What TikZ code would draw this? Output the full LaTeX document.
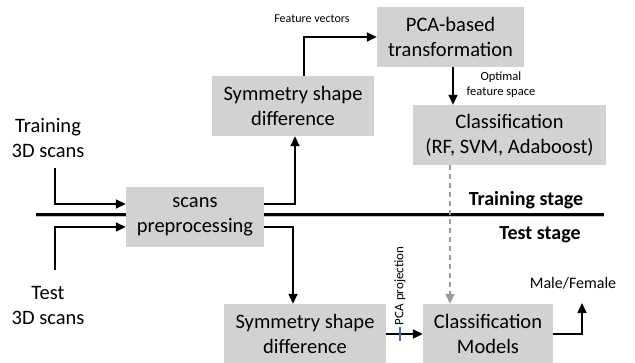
\documentclass[tikz,border=0pt]{standalone}
\usepackage{fontspec}
\setmainfont{Carlito}
\usetikzlibrary{arrows.meta,calc}
\definecolor{boxgray}{RGB}{210,210,210}
\definecolor{dashgray}{RGB}{155,155,155}
\definecolor{tickblue}{RGB}{60,110,200}
\begin{document}
\begin{tikzpicture}[x=1pt,y=-1pt,
  box/.style={fill=boxgray,draw=none,align=center,inner sep=0pt,font=\fontsize{20.5}{25}\selectfont},
  lbl/.style={align=center,inner sep=0pt,font=\fontsize{20.5}{25}\selectfont},
  small/.style={align=center,inner sep=0pt,font=\fontsize{12.5}{15}\selectfont},
  stage/.style={inner sep=0pt,font=\fontsize{20}{24}\selectfont\bfseries},
  arr/.style={line width=1.6pt,-{Triangle[length=10pt,width=9pt]}},
  conn/.style={line width=1.6pt}]
\useasboundingbox (0,0) rectangle (635,362);
% stage divider
\coordinate (la) at (36,214);
\coordinate (lb) at (604,214);
\draw[line width=3pt,black!25] ([yshift=-1.5pt]la) -- ([yshift=-1.5pt]lb);
\draw[line width=3pt] (la) -- (lb);
% boxes
\node[box,minimum width=162pt,minimum height=60pt] (symtop) at (293,106) {Symmetry shape\\difference};
\node[box,minimum width=147pt,minimum height=60pt] (pca) at (450.5,37) {PCA-based\\transformation};
\node[box,minimum width=193pt,minimum height=60pt] (cls) at (509.5,135) {Classification\\(RF, SVM, Adaboost)};
\node[box,minimum width=138pt,minimum height=60pt] (prep) at (195,217) {scans\\preprocessing};
\node[box,minimum width=162pt,minimum height=60pt] (symbot) at (305,334) {Symmetry shape\\difference};
\node[box,minimum width=130pt,minimum height=60pt] (models) at (488,334) {Classification\\Models};
% texts
\node[lbl] (trtxt) at (48,138) {Training\\3D scans};
\node[lbl] (tsttxt) at (48,305) {Test\\3D scans};
\node[small,font=\fontsize{12}{15}\selectfont] (fv) at (312,19) {Feature vectors};
\node[small] (ofs) at (501,85) {Optimal\\feature space};
\node[stage] (trst) at (526,200) {Training stage};
\node[stage] (tsst) at (540,235) {Test stage};
\node[small,rotate=90,font=\fontsize{13}{15}\selectfont] (pcap) at (400,286) {PCA projection};
\node[inner sep=0pt,font=\fontsize{16}{18}\selectfont] (mf) at (573,283) {Male/Female};
% connectors
\coordinate (trn) at (55,168);
\coordinate (tst) at (55,270);
\coordinate (out) at (582,303);
\draw[arr] (trn) |- ([yshift=13pt]prep.west);
\draw[arr] (tst) |- ([yshift=-10pt]prep.west);
\draw[arr] ([yshift=13pt]prep.east) -| ([xshift=2pt]symtop.south);
\draw[arr] ([yshift=-10pt]prep.east) -| ([xshift=-12pt]symbot.north);
\draw[arr] ([xshift=11pt]symtop.north) |- (pca.west);
\draw[arr] ([xshift=2.5pt]pca.south) -- ([xshift=2.5pt]pca.south |- cls.north);
\draw[line width=1.6pt,dashgray,dash pattern=on 5pt off 4pt,-{Triangle[length=10pt,width=9pt]}] ([xshift=-59.5pt]cls.south) -- ([xshift=-59.5pt]cls.south |- models.north);
\draw[arr] (symbot) -- (models);
\draw[line width=1.4pt,tickblue] (400,327) -- (400,341);
\draw[arr] (models.east) -| (out);
\end{tikzpicture}
\end{document}
